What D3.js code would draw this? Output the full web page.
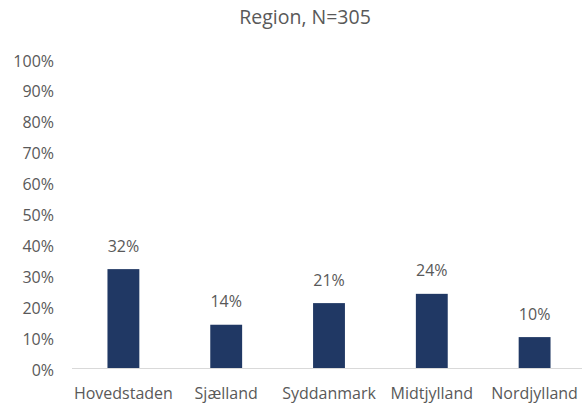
<!DOCTYPE html>
<html><head><meta charset="utf-8">
<script src="https://cdn.jsdelivr.net/npm/d3@7"></script>
<style>body{margin:0;background:#fff}text{font-family:"Open Sans",sans-serif;fill:#595959}</style>
</head><body>
<svg id="c" width="582" height="406"></svg>
<script>
const title = "Region, N=305";
const categories = ["Hovedstaden","Sjælland","Syddanmark","Midtjylland","Nordjylland"];
const values = [0.32,0.14,0.21,0.24,0.10];
const yTicks = [0,0.1,0.2,0.3,0.4,0.5,0.6,0.7,0.8,0.9,1.0];

const svg = d3.select("#c");
const x = d3.scaleBand().domain(categories).range([72,586]).paddingInner(0.69).paddingOuter(0.345);
const y = d3.scaleLinear().domain([0,1]).range([368,59]);
const fmt = d3.format(".0%");

svg.append("text").attr("x",305).attr("y",24).attr("text-anchor","middle")
  .style("font-size","19.5px").text(title);

svg.selectAll(".yt").data(yTicks).enter().append("text")
  .attr("x",54).attr("y",d=>y(d)+7.5).attr("text-anchor","end")
  .style("font-size","16px").text(fmt);

svg.selectAll(".bar").data(values).enter().append("rect")
  .attr("x",(d,i)=>x(categories[i])).attr("width",x.bandwidth())
  .attr("y",d=>y(d)).attr("height",d=>y(0)-y(d)).attr("fill","#203864");

svg.append("line").attr("x1",72).attr("x2",586).attr("y1",y(0)+0.5).attr("y2",y(0)+0.5)
  .attr("stroke","#d9d9d9").attr("stroke-width",1);

svg.selectAll(".lab").data(values).enter().append("text")
  .attr("x",(d,i)=>x(categories[i])+x.bandwidth()/2).attr("y",d=>y(d)-17.5)
  .attr("text-anchor","middle").style("font-size","16px").text(fmt);

svg.selectAll(".xt").data(categories).enter().append("text")
  .attr("x",d=>x(d)+x.bandwidth()/2).attr("y",399).attr("text-anchor","middle")
  .style("font-size","16px").text(d=>d);
</script>
</body></html>
